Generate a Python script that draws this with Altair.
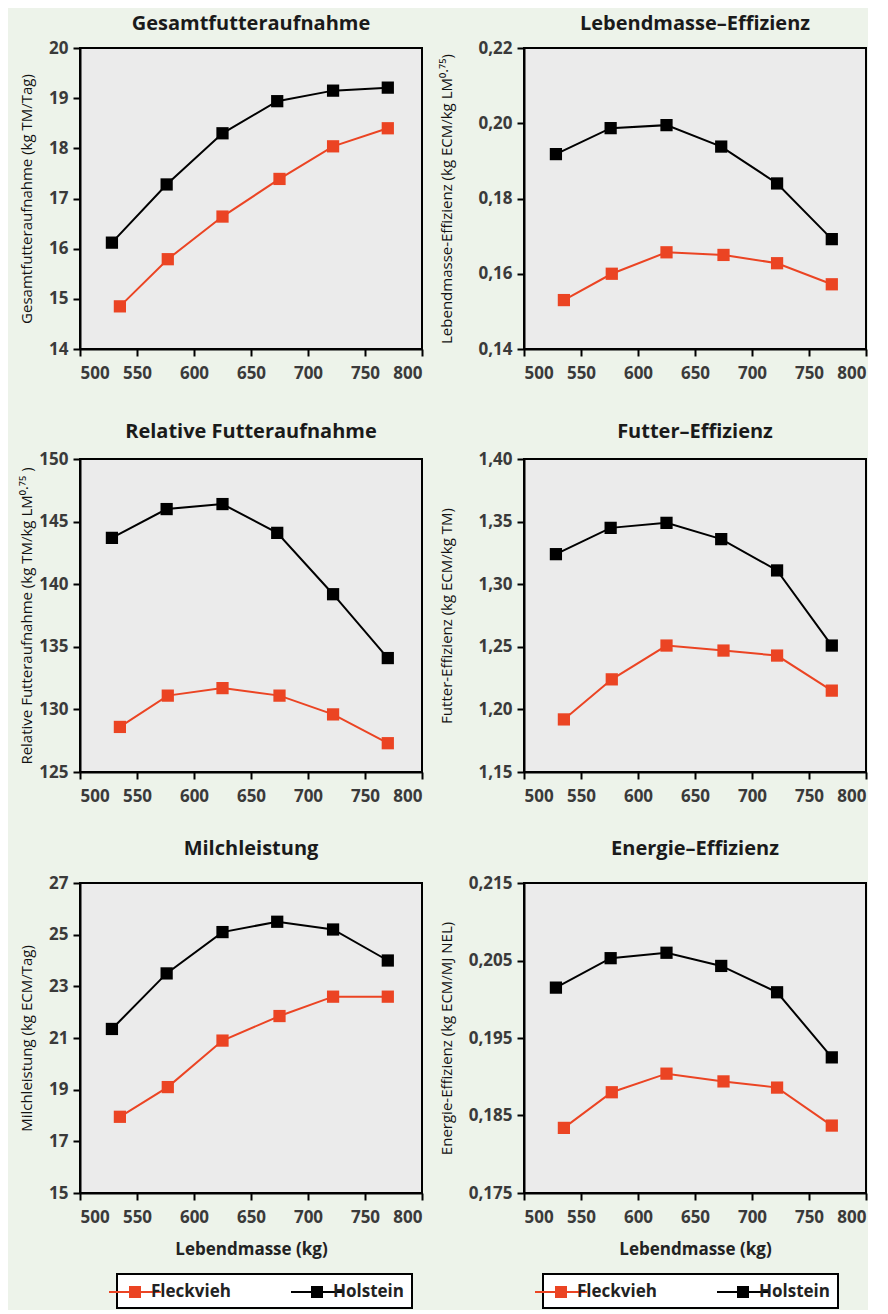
import altair as alt
import pandas as pd

# ---------------- data ----------------
rassen = ["Fleckvieh", "Holstein"]
farben = ["#eb4423", "#000000"]

lm_fleckvieh = [535, 577, 625, 675, 722, 770]
lm_holstein = [528, 576, 625, 673, 722, 770]

gesamt_fleckvieh = [14.85, 15.79, 16.64, 17.39, 18.04, 18.40]
gesamt_holstein = [16.12, 17.28, 18.30, 18.94, 19.15, 19.21]

lmeff_fleckvieh = [0.1530, 0.1600, 0.1657, 0.1650, 0.1628, 0.1572]
lmeff_holstein = [0.1918, 0.1987, 0.1995, 0.1938, 0.1840, 0.1692]

rel_fleckvieh = [128.6, 131.1, 131.7, 131.1, 129.6, 127.3]
rel_holstein = [143.7, 146.0, 146.4, 144.1, 139.2, 134.1]

futeff_fleckvieh = [1.192, 1.224, 1.251, 1.247, 1.243, 1.215]
futeff_holstein = [1.324, 1.345, 1.349, 1.336, 1.311, 1.251]

milch_fleckvieh = [17.95, 19.10, 20.90, 21.85, 22.60, 22.60]
milch_holstein = [21.35, 23.50, 25.10, 25.50, 25.20, 24.00]

energ_fleckvieh = [0.1834, 0.1880, 0.1904, 0.1894, 0.1886, 0.1837]
energ_holstein = [0.2015, 0.2053, 0.2060, 0.2043, 0.2009, 0.1925]

x_ticks = [500, 550, 600, 650, 700, 750, 800]

FONT = "Open Sans"
# legend glyph: a horizontal line with a filled square in its middle
LEG_SYMBOL = "M-2.6,-0.1H2.6V0.1H-2.6Z M-0.6,-0.6H0.6V0.6H-0.6Z"


def panel(f_vals, h_vals, title, ytitle, ydom, yticks, decimals, height,
          title_offset, title_x, show_x_title, legend_x=None):
    df = pd.DataFrame({
        "Lebendmasse": lm_fleckvieh + lm_holstein,
        "Wert": f_vals + h_vals,
        "Rasse": [rassen[0]] * len(f_vals) + [rassen[1]] * len(h_vals),
    })
    df["Linie"] = df["Rasse"]
    if decimals == 0:
        lab = "format(datum.value, 'd')"
    else:
        lab = f"replace(format(datum.value, '.{decimals}f'), '.', ',')"
    x = alt.X("Lebendmasse:Q",
              scale=alt.Scale(domain=[500, 800], nice=False, zero=False),
              axis=alt.Axis(values=x_ticks, format="d",
                            title="Lebendmasse (kg)" if show_x_title else None))
    y = alt.Y("Wert:Q",
              scale=alt.Scale(domain=ydom, nice=False, zero=False),
              axis=alt.Axis(values=yticks, labelExpr=lab, title=ytitle,
                            titleX=title_x))
    if legend_x is None:
        leg = None
    else:
        leg = alt.Legend(orient="none", legendX=legend_x, legendY=height + 81,
                         direction="horizontal", title=None,
                         symbolType=LEG_SYMBOL, symbolSize=400,
                         symbolOffset=0, symbolStrokeWidth=0, labelOffset=6,
                         labelFontSize=17, labelFont=FONT, labelFontWeight="bold",
                         labelColor="#222", columnPadding=60, padding=8,
                         strokeColor="#000", fillColor="#ffffff")
    base = alt.Chart(df)
    # stroke scale takes its domain from the data (different from the fill
    # scale's explicit domain) so that the two legends are not merged
    line = base.mark_line(strokeWidth=2).encode(
        x=x, y=y,
        stroke=alt.Stroke("Linie:N", scale=alt.Scale(range=farben), legend=None),
    )
    pts = base.mark_point(shape="square", filled=True, size=150, opacity=1).encode(
        x=x, y=y,
        fill=alt.Fill("Rasse:N", scale=alt.Scale(domain=rassen, range=farben), legend=leg),
    )
    return alt.layer(line, pts).properties(
        width=342, height=height,
        title=alt.TitleParams(title, offset=title_offset, fontSize=20,
                              font=FONT, fontWeight="bold", color="#1a1a1a"),
    )


LX = -46
RX = -70

p1 = panel(gesamt_fleckvieh, gesamt_holstein, "Gesamtfutteraufnahme",
           "Gesamtfutteraufnahme (kg TM/Tag)", [14, 20], [14, 15, 16, 17, 18, 19, 20], 0,
           301, 5, LX, False)
p2 = panel(lmeff_fleckvieh, lmeff_holstein, "Lebendmasse\u2013Effizienz",
           "Lebendmasse-Effizienz (kg ECM/kg LM\u2070\u00b7\u2077\u2075)", [0.14, 0.22],
           [0.14, 0.16, 0.18, 0.20, 0.22], 2, 301, 5, RX, False)
p3 = panel(rel_fleckvieh, rel_holstein, "Relative Futteraufnahme",
           "Relative Futteraufnahme (kg TM/kg LM\u2070\u00b7\u2077\u2075 )", [125, 150],
           [125, 130, 135, 140, 145, 150], 0, 313, 8, LX, False)
p4 = panel(futeff_fleckvieh, futeff_holstein, "Futter\u2013Effizienz",
           "Futter-Effizienz (kg ECM/kg TM)", [1.15, 1.40],
           [1.15, 1.20, 1.25, 1.30, 1.35, 1.40], 2, 313, 8, RX, False)
p5 = panel(milch_fleckvieh, milch_holstein, "Milchleistung",
           "Milchleistung (kg ECM/Tag)", [15, 27], [15, 17, 19, 21, 23, 25, 27], 0,
           310, 15, LX, True, legend_x=37)
p6 = panel(energ_fleckvieh, energ_holstein, "Energie\u2013Effizienz",
           "Energie-Effizienz (kg ECM/MJ NEL)", [0.175, 0.215],
           [0.175, 0.185, 0.195, 0.205, 0.215], 3, 310, 15, RX, True, legend_x=19)

row1 = alt.hconcat(p1, p2, spacing=14)
row2 = alt.hconcat(p3, p4, spacing=14)
row3 = (alt.hconcat(p5, p6, spacing=14)
        .resolve_scale(fill="independent", stroke="independent")
        .resolve_legend(fill="independent"))

chart = (
    alt.vconcat(alt.vconcat(row1, row2, spacing=39), row3, spacing=33)
    .resolve_scale(fill="independent", stroke="independent")
    .resolve_legend(fill="independent")
    .properties(padding={"left": 10, "top": 5, "right": 0, "bottom": 0},
                background="#edf3ea")
    .configure_view(fill="#ebebeb", stroke="#000000", strokeWidth=2)
    .configure_axis(grid=False, domainColor="#000", domainWidth=2,
                    tickColor="#000", tickWidth=2, tickSize=7,
                    labelFont=FONT, labelFontSize=17, labelFontWeight="bold",
                    labelColor="#3a3a3a", labelPadding=5,
                    titleFont=FONT, titleFontSize=15, titleFontWeight="normal",
                    titleColor="#111")
    .configure_axisX(titleFontSize=17, titleFontWeight="bold", titleColor="#222",
                     titlePadding=16, labelPadding=9)
    .configure_legend(strokeWidth=2)
)

chart.save("out.html", embed_options={"renderer": "svg", "actions": False})
